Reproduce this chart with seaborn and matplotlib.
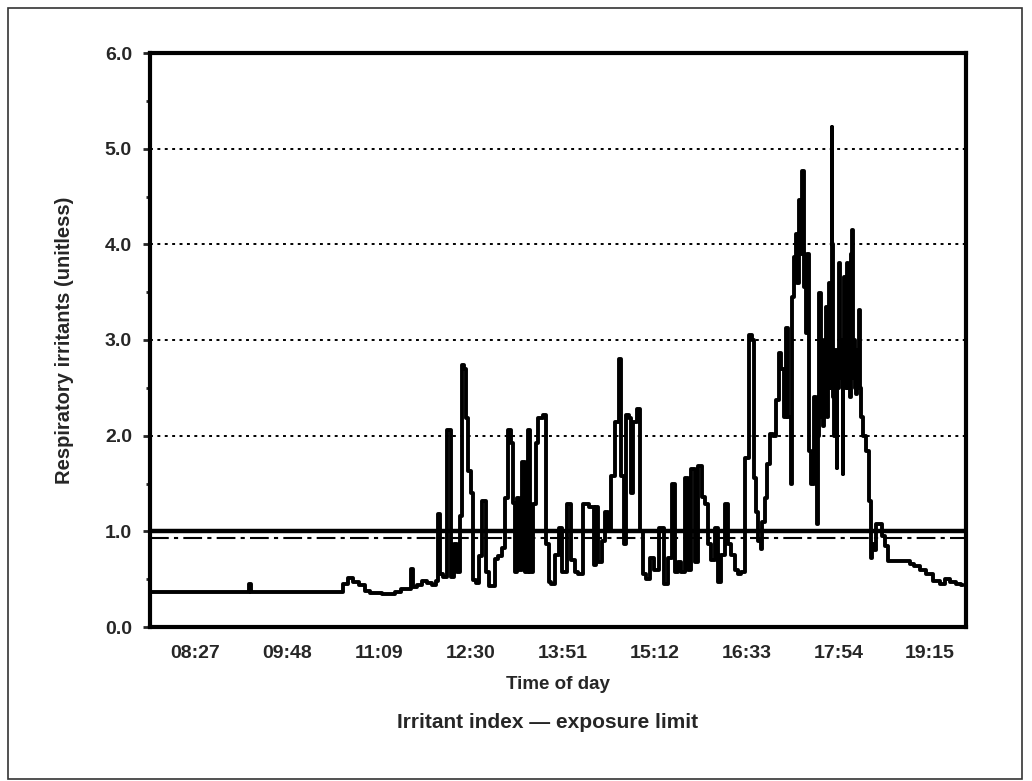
import matplotlib
matplotlib.use("Agg")
import matplotlib.pyplot as plt
import matplotlib.patches as mpatches
from matplotlib.ticker import MultipleLocator
import seaborn as sns
import pandas as pd

# ---- data (time in minutes since midnight, irritant index unitless) ----
time_min = [
    469.1, 553.7, 555.5, 557.2, 634.8, 639.2, 643.6, 648.9, 654.2, 659.5, 663.0,
    680.6, 685.9, 691.2, 696.5, 698.3, 700.0, 705.3, 708.8, 714.1, 717.7, 720.3,
    722.1, 723.8, 726.5, 730.9, 733.5, 736.2, 739.7, 741.5, 743.2, 745.0, 746.7,
    749.4, 751.1, 752.9, 755.6, 758.2, 761.7, 764.4, 767.0, 770.5, 773.2, 775.8,
    778.5, 782.0, 783.8, 786.4, 788.2, 789.9, 791.7, 793.5, 796.1, 799.6, 801.4,
    804.0, 806.7, 808.4, 811.1, 815.5, 817.3, 819.9, 822.5, 826.1, 828.7, 833.1,
    835.8, 840.2, 843.7, 846.3, 852.5, 856.9, 859.6, 861.3, 864.0, 866.6, 870.1,
    872.8, 875.4, 879.0, 881.6, 884.2, 886.0, 887.8, 890.4, 892.2, 894.8, 897.5,
    901.0, 903.6, 906.3, 909.8, 914.2, 916.9, 919.5, 922.1, 925.7, 928.3, 931.8,
    934.5, 937.1, 940.6, 943.3, 945.9, 949.5, 952.1, 954.8, 958.3, 960.9, 963.6,
    967.1, 969.7, 972.4, 975.9, 978.5, 981.2, 984.7, 987.4, 990.0, 993.5, 997.1,
    998.8, 1000.6, 1002.3, 1005.0, 1006.8, 1007.6, 1011.2, 1012.0, 1015.6, 1018.2,
    1020.9, 1022.6, 1025.3, 1027.0, 1028.8, 1031.4, 1033.2, 1034.1, 1035.8, 1037.6,
    1038.5, 1040.2, 1042.0, 1042.9, 1044.7, 1046.4, 1047.3, 1049.1, 1051.7, 1053.5,
    1054.4, 1056.1, 1057.0, 1057.9, 1058.8, 1059.6, 1060.5, 1061.4, 1062.3, 1063.2,
    1064.0, 1064.9, 1065.8, 1066.7, 1067.6, 1068.5, 1069.3, 1070.2, 1071.1, 1072.0,
    1072.9, 1073.7, 1074.6, 1075.5, 1076.4, 1077.3, 1078.2, 1079.0, 1079.9, 1080.8,
    1081.7, 1082.5, 1083.4, 1084.3, 1085.2, 1086.1, 1087.0, 1087.8, 1088.7, 1089.6,
    1090.5, 1091.4, 1092.3, 1093.1, 1094.0, 1094.9, 1097.5, 1100.2, 1101.9, 1103.7,
    1104.6, 1106.4, 1108.1, 1112.5, 1113.4, 1116.9, 1119.6, 1134.6, 1139.0, 1143.4,
    1148.7, 1154.8, 1161.0, 1166.3, 1170.7, 1175.1, 1181.3, 1183.9,
]
irritant_index = [
    0.37, 0.37, 0.45, 0.37, 0.37, 0.45, 0.51, 0.47, 0.44, 0.38, 0.36,
    0.35, 0.37, 0.40, 0.40, 0.61, 0.42, 0.44, 0.48, 0.46, 0.44, 0.48,
    1.18, 0.55, 0.52, 2.06, 0.52, 0.87, 0.57, 1.16, 2.74, 2.70, 2.18,
    1.63, 1.40, 0.49, 0.46, 0.74, 1.32, 0.57, 0.43, 0.43, 0.71, 0.74,
    0.83, 1.35, 2.06, 1.92, 1.30, 0.57, 1.35, 0.60, 1.72, 0.57, 2.06,
    0.57, 1.29, 1.92, 2.18, 2.22, 0.87, 0.47, 0.45, 0.75, 1.04, 0.57,
    1.29, 0.70, 0.57, 0.55, 1.29, 1.25, 0.65, 1.25, 0.68, 0.90, 1.20,
    1.00, 1.58, 2.14, 2.80, 1.58, 0.87, 2.22, 2.18, 1.40, 2.14, 2.28,
    1.00, 0.55, 0.50, 0.72, 0.60, 1.04, 1.04, 0.45, 0.72, 1.50, 0.57,
    0.68, 0.57, 1.56, 0.60, 1.65, 0.68, 1.68, 1.36, 1.29, 0.87, 0.70,
    1.04, 0.47, 0.75, 1.29, 0.87, 0.75, 0.60, 0.55, 0.57, 1.77, 3.05,
    3.00, 1.56, 1.20, 0.90, 0.82, 1.10, 1.35, 1.70, 2.02, 2.00,
    2.37, 2.86, 2.70, 2.20, 3.13, 2.19, 1.50, 3.45, 3.87, 4.11,
    3.60, 4.46, 3.90, 4.77, 3.55, 3.07, 3.90, 1.84, 1.50, 2.40,
    1.90, 1.08, 2.00, 3.49, 2.60, 2.20, 2.68, 2.10, 3.00, 2.40,
    3.34, 2.20, 2.50, 3.60, 2.50, 5.23, 4.00, 2.40, 2.00, 2.90,
    1.66, 2.80, 2.50, 3.80, 2.60, 2.90, 1.60, 3.00, 3.66, 2.50,
    3.00, 3.80, 2.50, 2.90, 2.40, 3.90, 4.15, 2.60, 3.00, 2.50,
    2.44, 2.90, 2.60, 3.31, 2.50, 2.20, 2.00, 1.84, 1.32, 0.72,
    0.87, 0.80, 1.08, 1.08, 0.95, 0.85, 0.69, 0.69, 0.66, 0.64,
    0.60, 0.55, 0.48, 0.45, 0.50, 0.47, 0.45, 0.44,
]
exposure_limit = 1.0
secondary_limit = 0.93
tick_labels = ["08:27", "09:48", "11:09", "12:30", "13:51", "15:12", "16:33", "17:54", "19:15"]
y_ticks = [0.0, 1.0, 2.0, 3.0, 4.0, 5.0, 6.0]
grid_levels = [2.0, 3.0, 4.0, 5.0]
x_label = "Time of day"
y_label = "Respiratory irritants (unitless)"
legend_text = "Irritant index \u2014 exposure limit"


def to_min(s):
    h, m = s.split(":")
    return int(h) * 60 + int(m)


tick_pos = [to_min(s) for s in tick_labels]

df = pd.DataFrame({"time": time_min, "index": irritant_index})

sns.set_style("white")
plt.rcParams["font.family"] = ["Liberation Sans", "DejaVu Sans"]

fig = plt.figure(figsize=(10.32, 7.81), dpi=100)
ax = fig.add_axes([150 / 1032, 1 - 627 / 781, 816 / 1032, 574 / 781])

for g in grid_levels:
    ax.axhline(g, color="black", lw=1.4, ls=(0, (1.5, 2.3)), zorder=1)

ax.axhline(secondary_limit, color="black", lw=1.5, ls=(0, (9, 2.5, 2, 2.5)), zorder=2)
ax.axhline(exposure_limit, color="black", lw=3.2, zorder=3)

sns.lineplot(data=df, x="time", y="index", ax=ax, color="black", lw=2.8,
             estimator=None, sort=False, drawstyle="steps-mid", zorder=4)

ax.set_xlim(467.3, 1186.6)
ax.set_ylim(0, 6)
ax.set_xticks(tick_pos)
ax.set_xticklabels(tick_labels)
ax.set_yticks(y_ticks)
ax.set_yticklabels([f"{v:.1f}" for v in y_ticks])
ax.yaxis.set_minor_locator(MultipleLocator(0.5))
ax.tick_params(axis="x", length=0, pad=13, labelsize=14)
ax.tick_params(axis="y", which="major", length=5, width=2, pad=8, labelsize=14,
               direction="out", left=True)
ax.tick_params(axis="y", which="minor", length=3, width=2, direction="out", left=True)
for lab in ax.get_xticklabels() + ax.get_yticklabels():
    lab.set_fontweight("bold")

for sp in ax.spines.values():
    sp.set_visible(True)
    sp.set_color("black")
    sp.set_linewidth(3)

ax.set_xlabel(x_label, fontsize=13.5, fontweight="bold", labelpad=10)
ax.set_ylabel(y_label, fontsize=14.5, fontweight="bold", labelpad=22)

fig.text(548 / 1032, 1 - 722 / 781, legend_text, ha="center", va="center",
         fontsize=15, fontweight="bold")

fig.patches.append(mpatches.Rectangle((8 / 1032, 0.002), 1014 / 1032, 1 - 8 / 781 - 0.002,
                                      transform=fig.transFigure, fill=False,
                                      edgecolor="#333333", linewidth=1.2))

fig.savefig("out.png", dpi=100)
